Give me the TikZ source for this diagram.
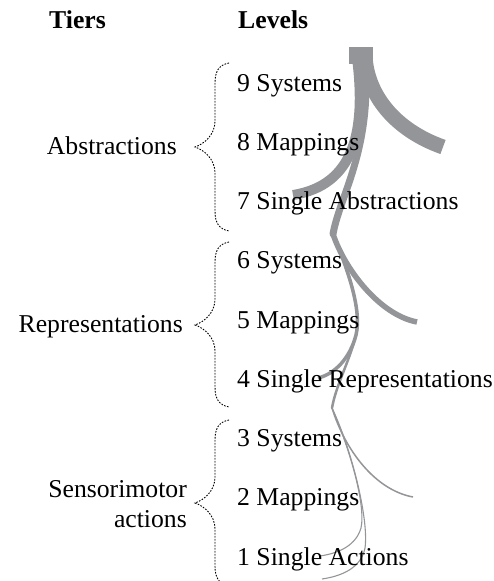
\documentclass[tikz,border=0pt]{standalone}
\usepackage{fontspec}
\setmainfont{Liberation Serif}
\usepackage{tikz}
\definecolor{stemgray}{RGB}{147,149,152}
\newcommand{\labelfont}{\fontsize{25.7}{30}\selectfont}
\tikzstyle{heading}=[inner sep=0, anchor=base west, font=\labelfont\bfseries]
\tikzstyle{level}=[inner sep=0, anchor=base west, font=\labelfont]
\tikzstyle{tier}=[inner sep=0, anchor=base east, font=\labelfont]
\tikzstyle{tierbrace}=[line width=0.9pt, dash pattern=on 1.6pt off 1.4pt]
\tikzstyle{stem}=[draw=stemgray, line cap=butt, line join=round]
\tikzstyle{trunk}=[stem, line cap=round]
% #1 top, #2 tip, #3 bottom
\newcommand{\tierbrace}[3]{%
  \draw[tierbrace] (229,#1) .. controls (219,#1+2) and (215,#1+8) .. (215,#1+20)
    -- (215,#2-26) .. controls (215,#2-12) and (204,#2-3) .. (195,#2)
    .. controls (204,#2+3) and (215,#2+12) .. (215,#2+26)
    -- (215,#3-20) .. controls (215,#3-8) and (219,#3-2) .. (229,#3);}

\begin{document}
\begin{tikzpicture}[x=1pt, y=-1pt]
    \useasboundingbox (0,0) rectangle (494,581);

    % abstractions
    \draw[stem, line width=24pt] (361,47) coordinate (crown) -- (361,64);
    \draw[stem, line width=15pt] (365,56) .. controls (367,95) and (395,130) .. (443,147) coordinate (abs end);
    \draw[stem, line width=10pt] (357,58) .. controls (366,130) and (355,185) .. (293,195) coordinate (abs left);
    \draw[trunk, line width=7pt] (365,60) .. controls (372,150) and (340,195) .. (333,234) coordinate (bend3);

    % representations
    \draw[stem, line width=5.5pt] (bend3) .. controls (345,270) and (380,315) .. (417,322) coordinate (rep end);
    \draw[stem, line width=3.5pt] (bend3) .. controls (348,270) and (362,310) .. (356,335)
        .. controls (350,358) and (335,374) .. (318,378) coordinate (rep left);
    \draw[trunk, line width=2.5pt] (bend3) .. controls (348,270) and (362,310) .. (356,335)
        .. controls (350,360) and (336,385) .. (332,408) coordinate (bend2);

    % sensorimotor actions
    \draw[stem, line width=1.5pt] (bend2) .. controls (345,450) and (375,490) .. (413,497) coordinate (sen end);
    \draw[stem, line width=1.1pt] (bend2) .. controls (350,450) and (366,505) .. (361,528)
        .. controls (356,545) and (340,553) .. (320,556) coordinate (sen left);
    \draw[stem, line width=1.1pt] (bend2) .. controls (352,450) and (369,520) .. (365,548)
        .. controls (361,568) and (342,576) .. (322,579) coordinate (sen low);

    \node[heading] (tiers) at (49,28) {Tiers};
    \node[heading] (levels) at (238,28) {Levels};

    \node[level] (lvl9) at (237,91) {9 Systems};
    \node[level] (lvl8) at (237,150) {8 Mappings};
    \node[level] (lvl7) at (237,209.5) {7 Single Abstractions};
    \node[level] (lvl6) at (237,268.75) {6 Systems};
    \node[level] (lvl5) at (237,328) {5 Mappings};
    \node[level] (lvl4) at (237,387) {4 Single Representations};
    \node[level] (lvl3) at (237,446.5) {3 Systems};
    \node[level] (lvl2) at (237,505.75) {2 Mappings};
    \node[level] (lvl1) at (237,565) {1 Single Actions};

    \node[tier] (abstractions) at (177,154) {Abstractions};
    \node[tier] (representations) at (183,332) {Representations};
    \node[tier] (sensorimotor) at (187,497) {Sensorimotor};
    \node[tier] (actions) at ([yshift=-30pt]sensorimotor.base east) {actions};

    \tierbrace{63}{147}{231}
    \tierbrace{242}{325}{407}
    \begin{scope}
        \clip (0,0) rectangle (494,581);
        \tierbrace{420}{503}{586}
    \end{scope}
\end{tikzpicture}
\end{document}
